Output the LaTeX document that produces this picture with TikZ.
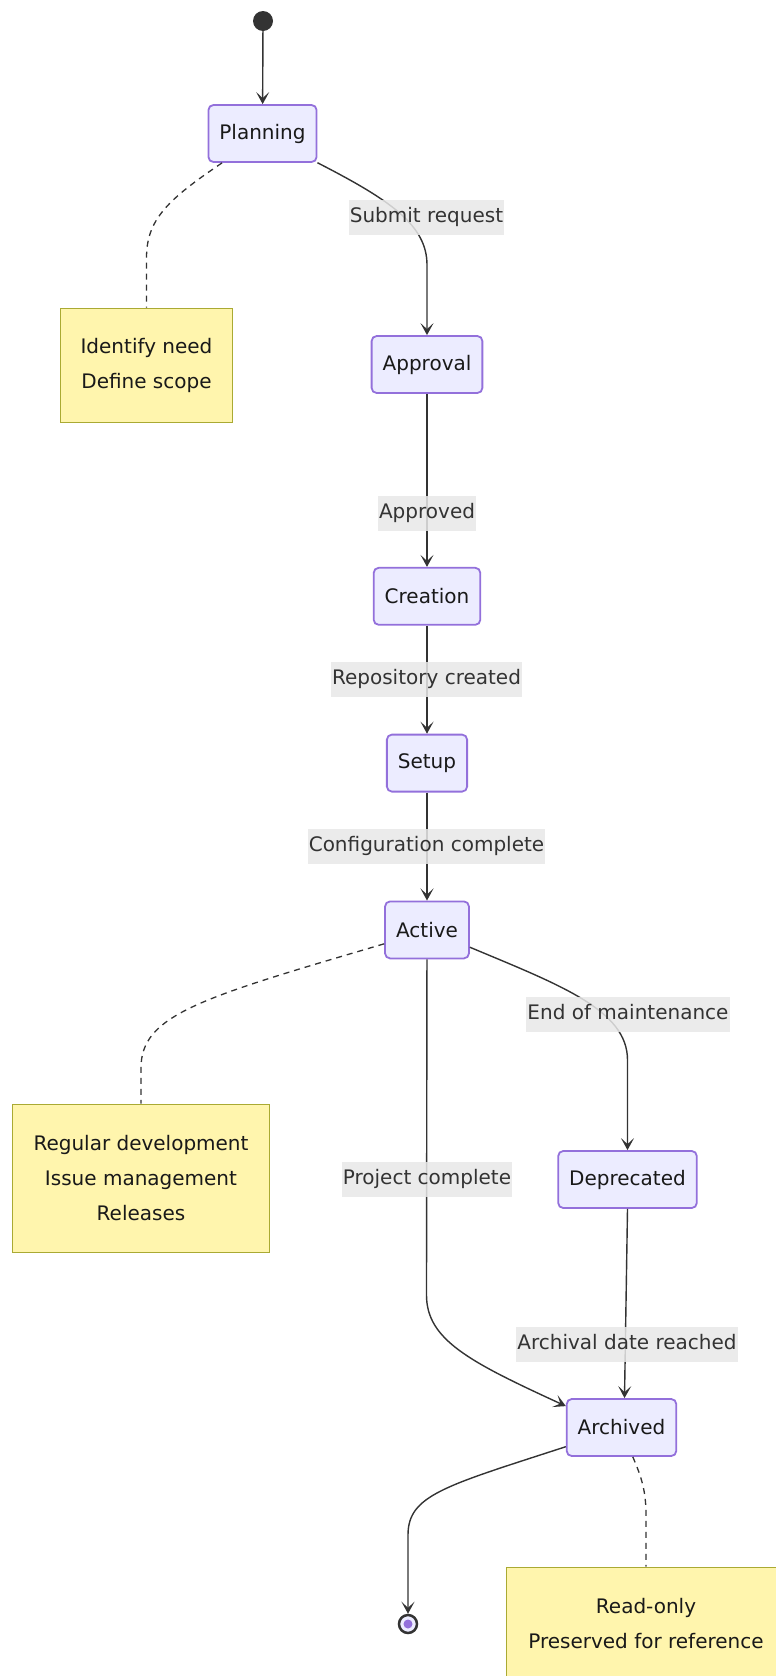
\documentclass[tikz,border=0pt]{standalone}
\usepackage{fontspec}
\setmainfont{DejaVu Sans}
\usetikzlibrary{arrows.meta, positioning}
\definecolor{statefill}{HTML}{ECECFF}
\definecolor{stateline}{HTML}{9370DB}
\definecolor{notefill}{HTML}{FFF5AD}
\definecolor{noteline}{HTML}{AAAA33}
\definecolor{edgegray}{HTML}{333333}
\definecolor{tagfill}{HTML}{E8E8E8}
\tikzset{
  state/.style={rectangle,draw=stateline,fill=statefill,rounded corners=5pt,line width=1.8pt,inner xsep=11pt,minimum height=57pt,text=black!90,font=\fontsize{20}{24}\selectfont},
  note/.style={rectangle,draw=noteline,fill=notefill,line width=1.8pt,align=center,text=black!90,font=\fontsize{20}{35}\selectfont},
  tag/.style={fill=tagfill,fill opacity=0.85,text opacity=1,text=edgegray,inner xsep=1pt,inner ysep=7.5pt,text height=15pt,text depth=5pt,font=\fontsize{20}{24}\selectfont},
  init/.style={circle,fill=edgegray,minimum size=20pt,inner sep=0pt},
  final/.style={circle,draw=edgegray,line width=2.5pt,fill=statefill,minimum size=18pt,inner sep=0pt,
    path picture={\fill[stateline] (path picture bounding box.center) circle (4.5pt);}},
  line/.style={draw=edgegray,line width=1.4pt,-{Stealth[length=12pt,width=13pt,inset=6pt]}},
  link/.style={draw=edgegray,line width=1.3pt,dash pattern=on 6pt off 5pt}
}

\begin{document}
\begin{tikzpicture}[x=1pt,y=-1pt]
\useasboundingbox (0,0) rectangle (776,1676);
\clip (0,0) rectangle (776,1676);
% states
\node[init] (start) at (263,21) {};
\node[state] (planning) at (262.5,133.5) {Planning};
\node[state] (approval) at (427,364.5) {Approval};
\node[state, below=173pt of approval] (creation) {Creation};
\node[state, below=108pt of creation] (setup) {Setup};
\node[state, below=108pt of setup] (active) {Active};
\node[state] (deprecated) at (627.5,1179.5) {Deprecated};
\node[state] (archived) at (621.5,1427.5) {Archived};
\node[final] (finish) at (408,1624) {};
% notes
\node[note, minimum width=172pt, minimum height=114pt] (needs) at (146.5,365.5) {Identify need\\Define scope};
\node[note, minimum width=257pt, minimum height=148pt] (devnote) at (141,1178.5) {Regular development\\Issue management\\Releases};
\node[note, minimum width=279pt, minimum height=112pt] (keepnote) at (646,1623.5) {Read-only\\Preserved for reference};
% transitions
\draw[line] (start) -- (planning);
\draw[line] (planning.-28) .. controls (390,200) and (427,225) .. (427,265) -- (approval);
\draw[line] (approval) -- (creation);
\draw[line] (creation) -- (setup);
\draw[line] (setup) -- (active);
\draw[line] (active.-22) .. controls (560,985) and (627.5,1010) .. (627.5,1060) -- (deprecated);
\draw[line] (active) -- (426.5,1295) .. controls (426.5,1340) and (470,1362) .. ([yshift=-8pt]archived.north west);
\draw[line] (deprecated.south) -- ([xshift=3pt]archived.north);
\draw[line] (archived.199) .. controls (445,1486) and (408,1495) .. (408,1535) -- (finish);
% note links
\draw[link] (planning.216) .. controls (167,200) and (146.5,220) .. (146.5,258) -- (needs);
\draw[link] (active.198) .. controls (200,998) and (141,1015) .. (141,1068) -- (devnote);
\draw[link] (archived.-69) .. controls (642,1478) and (646,1492) .. (646,1515) -- (keepnote);
% transition labels
\node[tag] (submit) at (426.5,217) {Submit request};
\node[tag] (approved) at (427,513) {Approved};
\node[tag] (created) at (426.5,679.5) {Repository created};
\node[tag] (configured) at (426.5,846.5) {Configuration complete};
\node[tag] (endmaint) at (628,1014) {End of maintenance};
\node[tag] (complete) at (427,1179.5) {Project complete};
\node[tag] (reached) at (627,1344.5) {Archival date reached};
\end{tikzpicture}
\end{document}
